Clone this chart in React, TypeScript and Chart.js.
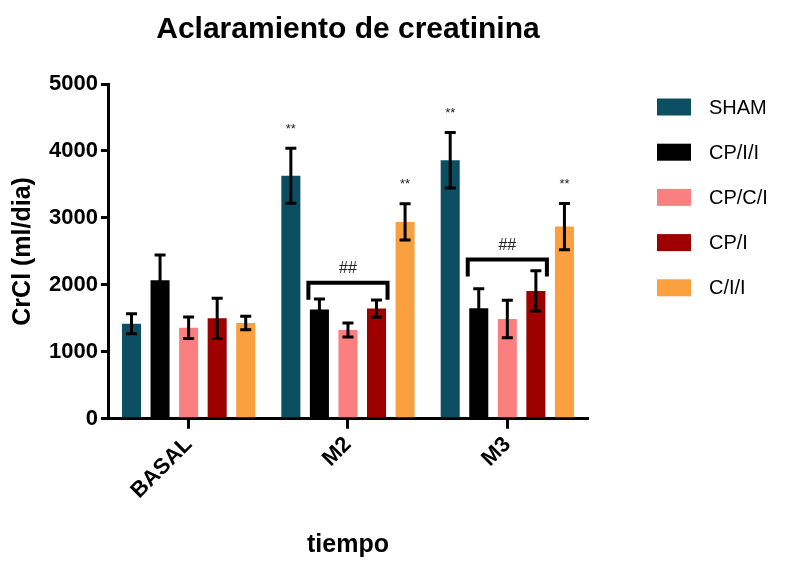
import { useEffect, useRef } from 'react';
import { Chart, registerables } from 'chart.js';

Chart.register(...registerables);

// ---------- data ----------
const categories = ['BASAL', 'M2', 'M3'];
const seriesNames = ['SHAM', 'CP/I/I', 'CP/C/I', 'CP/I', 'C/I/I'];

const shamValues = [1420, 3630, 3860];
const shamErrors = [150, 410, 415];
const cpiiValues = [2070, 1630, 1650];
const cpiiErrors = [375, 160, 290];
const cpciValues = [1360, 1325, 1490];
const cpciErrors = [160, 105, 280];
const cpiValues = [1500, 1645, 1910];
const cpiErrors = [300, 130, 300];
const ciiValues = [1430, 2940, 2870];
const ciiErrors = [100, 270, 345];

const shamStars = ['', '**', '**'];
const cpiiStars = ['', '', ''];
const cpciStars = ['', '', ''];
const cpiStars = ['', '', ''];
const ciiStars = ['', '**', '**'];

// bracket over CP/I/I .. CP/I per category (value level), and its label
const bracketLevels = [null, 2030, 2380];
const bracketLabels = ['', '##', '##'];

const yMin = 0;
const yMax = 5000;
const yStep = 1000;

const titleText = 'Aclaramiento de creatinina';
const yTitle = 'CrCl (ml/dia)';
const xTitle = 'tiempo';

// ---------- styling ----------
const FONT = '"Liberation Sans", Arial, Helvetica, sans-serif';
const colors = ['#0D4F62', '#000000', '#FC7F80', '#9E0000', '#FBA03F'];

const seriesValues = [shamValues, cpiiValues, cpciValues, cpiValues, ciiValues];
const seriesErrors = [shamErrors, cpiiErrors, cpciErrors, cpiErrors, ciiErrors];
const seriesStars = [shamStars, cpiiStars, cpciStars, cpiStars, ciiStars];

const annotationsPlugin = {
  id: 'annotationsPlugin',
  afterDatasetsDraw(chart: any) {
    const ctx = chart.ctx;
    const yScale = chart.scales.y;
    ctx.save();
    chart.data.datasets.forEach((ds: any, di: number) => {
      const meta = chart.getDatasetMeta(di);
      meta.data.forEach((bar: any, i: number) => {
        const v = ds.data[i];
        const e = ds.errors[i];
        const yTop = yScale.getPixelForValue(v + e);
        const yBot = yScale.getPixelForValue(v - e);
        const x = bar.x;
        ctx.strokeStyle = '#000';
        ctx.lineWidth = 3;
        ctx.lineCap = 'butt';
        ctx.beginPath();
        ctx.moveTo(x, yTop);
        ctx.lineTo(x, yBot);
        ctx.moveTo(x - 5.5, yTop);
        ctx.lineTo(x + 5.5, yTop);
        ctx.moveTo(x - 5.5, yBot);
        ctx.lineTo(x + 5.5, yBot);
        ctx.stroke();
        const s = ds.stars[i];
        if (s) {
          ctx.fillStyle = '#222';
          ctx.font = `13px ${FONT}`;
          ctx.textAlign = 'center';
          ctx.textBaseline = 'middle';
          ctx.fillText(s, x, yTop - 19);
        }
      });
    });
    // brackets
    const m1 = chart.getDatasetMeta(1);
    const m3 = chart.getDatasetMeta(3);
    bracketLevels.forEach((lvl, i) => {
      if (lvl == null) return;
      const b1 = m1.data[i];
      const b3 = m3.data[i];
      const x1 = b1.x - b1.width / 2 - 1.5;
      const x2 = b3.x + b3.width / 2 + 1.5;
      const y = yScale.getPixelForValue(lvl);
      ctx.strokeStyle = '#000';
      ctx.lineWidth = 4;
      ctx.lineJoin = 'miter';
      ctx.beginPath();
      ctx.moveTo(x1, y + 17);
      ctx.lineTo(x1, y);
      ctx.lineTo(x2, y);
      ctx.lineTo(x2, y + 17);
      ctx.stroke();
      ctx.fillStyle = '#222';
      ctx.font = `16px ${FONT}`;
      ctx.textAlign = 'center';
      ctx.textBaseline = 'middle';
      ctx.fillText(bracketLabels[i], (x1 + x2) / 2, y - 14);
    });
    ctx.restore();
  },
};

const legendPlugin = {
  id: 'customLegend',
  afterDraw(chart: any) {
    const ctx = chart.ctx;
    const area = chart.chartArea;
    ctx.save();
    ctx.font = `20px ${FONT}`;
    ctx.textAlign = 'left';
    ctx.textBaseline = 'middle';
    seriesNames.forEach((name, i) => {
      const cy = area.top + 23 + i * 45.2;
      ctx.fillStyle = colors[i];
      ctx.fillRect(area.right + 70, cy - 8.5, 34, 17);
      ctx.fillStyle = '#000';
      ctx.fillText(name, area.right + 122, cy + 1);
    });
    ctx.restore();
  },
};

export default function App() {
  const ref = useRef<HTMLCanvasElement | null>(null);

  useEffect(() => {
    if (!ref.current) return;
    const chart = new Chart(ref.current, {
      type: 'bar',
      data: {
        labels: categories,
        datasets: seriesNames.map((name, i) => ({
          label: name,
          data: seriesValues[i],
          errors: seriesErrors[i],
          stars: seriesStars[i],
          backgroundColor: colors[i],
          borderWidth: 0,
          barPercentage: 0.667,
          categoryPercentage: 0.896,
        })) as any,
      },
      options: {
        responsive: false,
        animation: false,
        layout: { padding: { left: 4, right: 202, top: 0, bottom: 4 } },
        plugins: {
          legend: { display: false },
          tooltip: { enabled: false },
          title: {
            display: true,
            text: titleText,
            fullSize: false,
            color: '#000',
            font: { family: FONT, size: 30, weight: 'bold' },
            padding: { top: 12, bottom: 36 },
          },
        },
        scales: {
          x: {
            offset: true,
            border: { display: true, color: '#000', width: 3 },
            grid: {
              display: true,
              offset: false,
              drawOnChartArea: false,
              drawTicks: true,
              tickLength: 10,
              lineWidth: 3,
              color: '#000',
            },
            ticks: {
              color: '#000',
              font: { family: FONT, size: 22, weight: 'bold' },
              minRotation: 45,
              maxRotation: 45,
              padding: 3,
            },
            title: {
              display: true,
              text: xTitle,
              color: '#000',
              font: { family: FONT, size: 25, weight: 'bold' },
              padding: { top: 23, bottom: 0 },
            },
          },
          y: {
            min: yMin,
            max: yMax,
            border: { display: true, color: '#000', width: 3 },
            grid: {
              display: true,
              drawOnChartArea: false,
              drawTicks: true,
              tickLength: 8,
              lineWidth: 3,
              color: '#000',
            },
            ticks: {
              stepSize: yStep,
              color: '#000',
              font: { family: FONT, size: 22, weight: 'bold' },
              padding: 3,
              callback: (v: any) => String(v),
            },
            title: {
              display: true,
              text: yTitle,
              color: '#000',
              font: { family: FONT, size: 25, weight: 'bold' },
              padding: { top: 4, bottom: 8 },
            },
          },
        },
      } as any,
      plugins: [annotationsPlugin, legendPlugin],
    });
    return () => chart.destroy();
  }, []);

  return (
    <div style={{ position: 'fixed', left: 0, top: 0, width: 789, height: 564, background: '#fff' }}>
      <canvas ref={ref} width={789} height={564} style={{ display: 'block' }} />
    </div>
  );
}
